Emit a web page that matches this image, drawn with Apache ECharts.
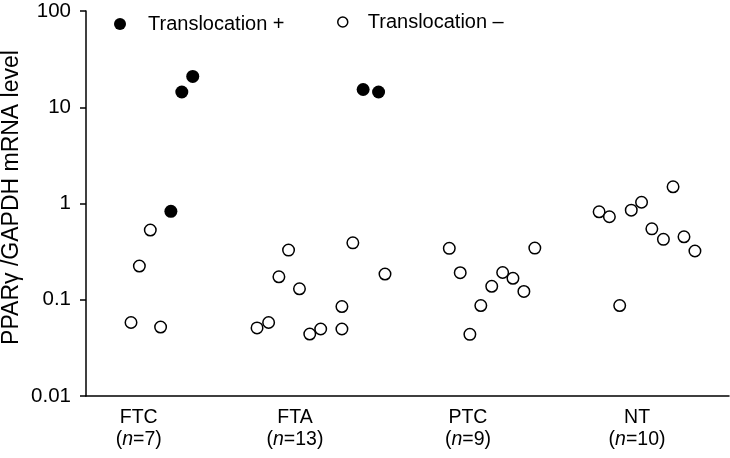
<!DOCTYPE html>
<html>
<head>
<meta charset="utf-8">
<script src="https://cdn.jsdelivr.net/npm/echarts@6/dist/echarts.min.js"></script>
<style>
  html, body { margin: 0; padding: 0; background: #fff; }
  #chart { width: 730px; height: 458px; }
</style>
</head>
<body>
<div id="chart"></div>
<script>
// groups along the x axis
const groups = ['FTC', 'FTA', 'PTC', 'NT'];
const groupN = [7, 13, 9, 10];
const groupPos = [0.82, 3.25, 5.94, 8.57];

// translocation + (filled dots)
const posX = [1.32, 1.49, 1.66, 4.31, 4.55];
const posY = [0.83, 14.4, 20.9, 15.3, 14.4];

// translocation - (open circles)
const negX = [
    1.00, 0.83, 0.70, 1.16,
    3.15, 4.15, 3.00, 3.32, 4.65, 3.98, 2.66, 2.84, 3.48, 3.65, 3.98,
    5.65, 6.98, 5.82, 6.48, 6.64, 6.31, 6.81, 6.14, 5.97,
    9.13, 7.98, 8.14, 8.48, 8.64, 8.80, 8.98, 9.30, 9.47, 8.30
];
const negY = [
    0.53, 0.224, 0.058, 0.052,
    0.328, 0.39, 0.173, 0.130, 0.185, 0.085, 0.051, 0.058, 0.044, 0.0497, 0.0497,
    0.342, 0.344, 0.191, 0.192, 0.167, 0.138, 0.122, 0.087, 0.0437,
    1.49, 0.82, 0.728, 0.853, 1.03, 0.545, 0.424, 0.451, 0.321, 0.087
];

const seriesNames = ['Translocation +', 'Translocation \u2013'];
const font = 'Liberation Sans, Arial, Helvetica, sans-serif';

let chart = echarts.init(document.getElementById('chart'));

const zip = (xs, ys) => xs.map((x, i) => [x, ys[i]]);

const option = {
    animation: false,
    textStyle: { fontFamily: font, color: '#000' },
    grid: { left: 86, right: 1, top: 11, bottom: 62, containLabel: false, outerBoundsMode: 'none' },
    legend: [
        {
            data: [seriesNames[0]],
            left: 114,
            top: 14,
            padding: 0,
            icon: 'circle',
            itemWidth: 12,
            itemHeight: 12,
            itemStyle: { color: '#000', opacity: 1 },
            textStyle: { fontSize: 20, fontFamily: font, color: '#000', padding: [0, 0, 0, 17] }
        },
        {
            data: [seriesNames[1]],
            left: 337,
            top: 12,
            padding: 0,
            icon: 'circle',
            itemWidth: 10,
            itemHeight: 10,
            itemStyle: { color: '#fff', borderColor: '#000', borderWidth: 1.5 },
            textStyle: { fontSize: 20, fontFamily: font, color: '#000', padding: [0, 0, 0, 15] }
        }
    ],
    xAxis: {
        type: 'value',
        min: 0,
        max: 10,
        splitLine: { show: false },
        axisLine: { lineStyle: { color: '#000', width: 1.5 } },
        axisTick: { show: false },
        axisLabel: {
            customValues: groupPos,
            margin: 11,
            formatter: (v) => {
                let i = 0;
                groupPos.forEach((p, k) => { if (Math.abs(p - v) < Math.abs(groupPos[i] - v)) i = k; });
                return '{g|' + groups[i] + '}\n{g|(}{i|n}{g|=' + groupN[i] + ')}';
            },
            rich: {
                g: { fontSize: 19.5, fontFamily: font, color: '#000', lineHeight: 22 },
                i: { fontSize: 19.5, fontFamily: font, color: '#000', fontStyle: 'italic', lineHeight: 22 }
            }
        }
    },
    yAxis: {
        type: 'log',
        logBase: 10,
        min: 0.01,
        max: 100,
        name: 'PPAR\u03b3 /GAPDH mRNA level',
        nameLocation: 'middle',
        nameGap: 63,
        nameMoveOverlap: false,
        nameTextStyle: { fontSize: 23, fontFamily: font, color: '#000', padding: [0, 0, 0, 12] },
        splitLine: { show: false },
        axisLine: { show: true, lineStyle: { color: '#000', width: 1.5 } },
        axisTick: { show: true, length: 6, lineStyle: { color: '#000', width: 1.5 } },
        axisLabel: { fontSize: 20.5, fontFamily: font, color: '#000', margin: 15 }
    },
    series: [
        {
            name: seriesNames[0],
            type: 'scatter',
            symbol: 'circle',
            symbolSize: 13,
            itemStyle: { color: '#000', opacity: 1 },
            data: zip(posX, posY)
        },
        {
            name: seriesNames[1],
            type: 'scatter',
            symbol: 'circle',
            symbolSize: 11.5,
            itemStyle: { color: '#fff', borderColor: '#000', borderWidth: 1.5, opacity: 1 },
            data: zip(negX, negY)
        }
    ]
};
chart.setOption(option);
window.addEventListener('resize', function () {
    chart.resize();
});
</script>
</body>
</html>
